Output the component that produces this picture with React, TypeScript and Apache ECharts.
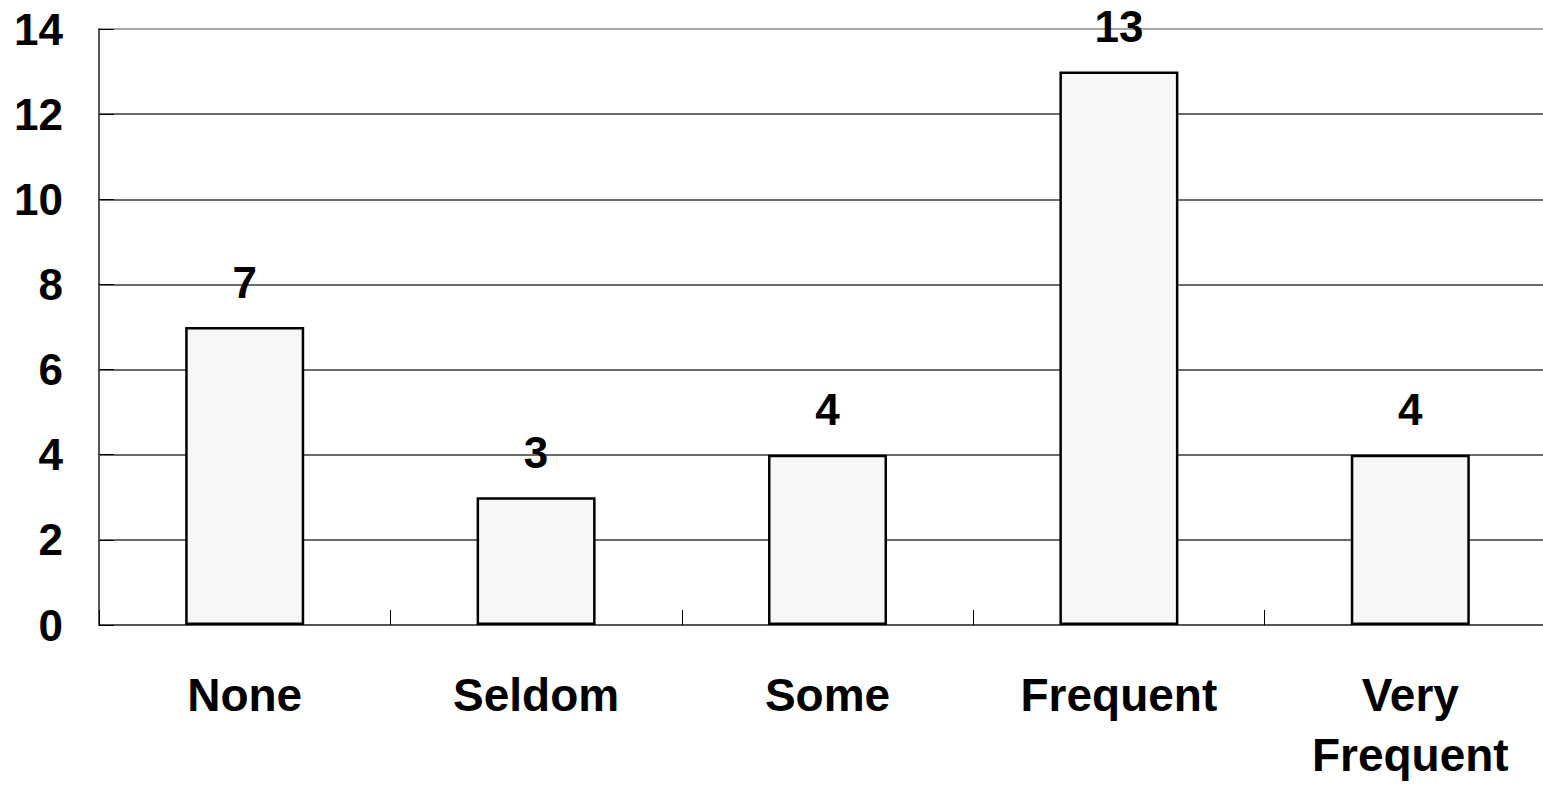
import React, { useEffect, useRef } from "react";
import * as echarts from "echarts";

const categories = ["None", "Seldom", "Some", "Frequent", "Very Frequent"];
const counts = [7, 3, 4, 13, 4];
const yMin = 0;
const yMax = 14;
const yStep = 2;

const FONT = "'Liberation Sans', Arial, Helvetica, sans-serif";

export default function App() {
  const ref = useRef<HTMLDivElement>(null);

  useEffect(() => {
    if (!ref.current) return;
    const chart = echarts.init(ref.current, undefined, { renderer: "svg" });
    const splitColors = [] as string[];
    for (let v = yMin; v <= yMax; v += yStep) {
      splitColors.push(v === yMax ? "#8a8a8a" : "#3a3a3a");
    }
    chart.setOption({
      animation: false,
      backgroundColor: "#ffffff",
      grid: {
        left: 99,
        right: 0,
        top: 29,
        bottom: 155,
      },
      xAxis: {
        type: "category",
        data: categories,
        boundaryGap: true,
        axisLine: { show: true, lineStyle: { color: "#555555", width: 2 } },
        axisTick: {
          show: true,
          inside: true,
          length: 15,
          alignWithLabel: false,
          lineStyle: { color: "#000000", width: 1 },
        },
        axisLabel: {
          interval: 0,
          margin: 40,
          fontFamily: FONT,
          fontWeight: "bold",
          fontSize: 46,
          lineHeight: 60,
          color: "#000000",
          formatter: (v: string) => v.replace(" ", "\n"),
        },
        splitLine: { show: false },
      },
      yAxis: {
        type: "value",
        min: yMin,
        max: yMax,
        interval: yStep,
        axisLine: { show: true, lineStyle: { color: "#555555", width: 2 } },
        axisTick: {
          show: true,
          inside: true,
          length: 15,
          lineStyle: { color: "#000000", width: 1 },
        },
        axisLabel: {
          margin: 36,
          fontFamily: FONT,
          fontWeight: "bold",
          fontSize: 44,
          color: "#000000",
        },
        splitLine: {
          show: true,
          lineStyle: { color: splitColors, width: 1.5 },
        },
      },
      series: [
        {
          type: "bar",
          data: counts,
          barWidth: 119,
          itemStyle: {
            color: "#f7f7f7",
            borderColor: "#000000",
            borderWidth: 2.5,
          },
          label: {
            show: true,
            position: "top",
            distance: 23,
            fontFamily: FONT,
            fontWeight: "bold",
            fontSize: 44,
            lineHeight: 44,
            color: "#000000",
          },
        },
      ],
    });
    return () => chart.dispose();
  }, []);

  return (
    <div
      style={{
        position: "fixed",
        left: 0,
        top: 0,
        width: 1543,
        height: 785,
        overflow: "hidden",
        background: "#fff",
      }}
    >
      <div ref={ref} style={{ width: 1556, height: 785 }} />
    </div>
  );
}
